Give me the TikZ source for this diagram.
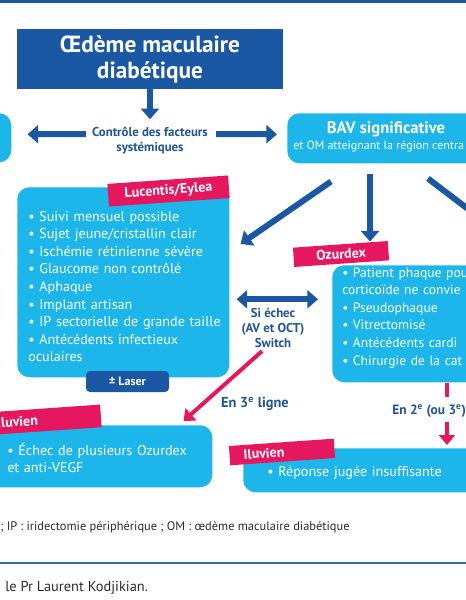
\documentclass[tikz,border=0pt]{standalone}
\usepackage{fontspec}
\setmainfont{PT Sans}
\usetikzlibrary{arrows.meta,positioning,calc}
\definecolor{deepblue}{HTML}{1B58A3}
\definecolor{skycyan}{HTML}{1DB6EB}
\definecolor{hotpink}{HTML}{E5175F}
\definecolor{labelblue}{HTML}{1F5596}
\definecolor{ruleblue}{HTML}{2E6DB4}
\definecolor{noteink}{HTML}{2B2B2B}
\tikzset{
  titlebox/.style={
    fill=deepblue,
    text=white,
    align=center,
    font=\bfseries\fontsize{17.5}{19.5}\selectfont,
    minimum width=199.5pt,
    minimum height=45pt,
    inner sep=0pt
  },
  cyanbox/.style={
    fill=skycyan,
    rounded corners=9pt,
    inner sep=0pt,
    anchor=north west
  },
  tabnode/.style={
    fill=hotpink,
    text=white,
    font=\bfseries\fontsize{10.5}{12}\selectfont,
    rotate=4,
    inner sep=0pt
  },
  laserbox/.style={
    fill=deepblue,
    text=white,
    rounded corners=3pt,
    font=\bfseries\fontsize{9}{10}\selectfont,
    minimum width=62.25pt,
    minimum height=15.75pt,
    inner sep=0pt
  },
  listtext/.style={
    text=white,
    align=left,
    text width=180pt,
    anchor=base west,
    inner sep=0pt,
    font=\fontsize{10.6}{13.2}\selectfont
  },
  steplabel/.style={
    text=labelblue,
    align=center,
    inner sep=0pt,
    font=\bfseries\fontsize{9.6}{11.4}\selectfont
  },
  notetext/.style={anchor=base west, inner sep=0pt, text=noteink},
  bluearrow/.style={draw=deepblue, line width=4.5pt, -{Triangle[length=8pt,width=13.5pt]}},
  bluedouble/.style={draw=deepblue, line width=4.5pt,
    {Triangle[length=8pt,width=13.5pt]}-{Triangle[length=8pt,width=13.5pt]}},
  pinkarrow/.style={draw=hotpink, line width=3pt, -{Triangle[length=7.5pt,width=12pt]}},
  pinkline/.style={draw=hotpink, line width=3pt}
}

\begin{document}
\begin{tikzpicture}[x=0.75pt,y=-0.75pt]
  \useasboundingbox (0,0) rectangle (466,600);
  \clip (0,0) rectangle (466,600);
  \fill[white] (0,0) rectangle (466,600);
  \draw[deepblue, line width=2pt] (0,1.5) -- (466,1.5);

  % title and systemic control
  \node[titlebox] (title) at (150,59) {Œdème maculaire\\diabétique};
  \node[steplabel] (ctrl) at (150,141) {Contrôle des facteurs\\systémiques};
  \node[cyanbox, minimum width=38.25pt, minimum height=36.75pt] (leftbox) at (-40,113) {};
  \node[cyanbox, minimum width=180pt, minimum height=37.5pt] (bav) at (287,113) {};
  \node[inner sep=0pt, text=white, font=\bfseries\fontsize{12.5}{14}\selectfont] (bavhead) at (386,129) {BAV significative};
  \node[notetext, text=white, font=\fontsize{9}{11}\selectfont] (bavsub) at (293,149) {et OM atteignant la région centra};
  \draw[bluearrow] (title.south) -- ($(title.south)+(0,30)$);
  \draw[bluearrow] ($(ctrl.west)+(-6,-7)$) -- ($(leftbox.east)+(16,-3.5)$);
  \draw[bluearrow] ($(ctrl.east)+(8,-7)$) -- ($(bav.west)+(-10,-4)$);

  % Lucentis / Eylea
  \node[cyanbox, minimum width=159pt, minimum height=142.5pt] (lucbox) at (17,187) {};
  \node[tabnode, minimum width=90.75pt, minimum height=17pt] (luctab) at (168.5,191) {Lucentis/Eylea};
  \node[listtext] (luclist) at (28,221) {• Suivi mensuel possible\\
    • Sujet jeune/cristallin clair\\
    • Ischémie rétinienne sévère\\
    • Glaucome non contrôlé\\
    • Aphaque\\
    • Implant artisan\\
    • IP sectorielle de grande taille\\
    • Antécédents infectieux\\
    oculaires};
  \node[laserbox] (laser) at (127.5,381.5) {± Laser};

  % Ozurdex
  \node[cyanbox, minimum width=150pt, minimum height=87.75pt] (ozbox) at (332,265) {};
  \node[tabnode, minimum width=71.25pt, minimum height=14.5pt] (oztab) at (341,254) {Ozurdex};
  \node[listtext, text width=96pt, font=\fontsize{10.2}{13.2}\selectfont] (ozlist) at (342,277) {• Patient phaque pou\\
    corticoïde ne convie\\
    • Pseudophaque\\
    • Vitrectomisé\\
    • Antécédents cardi\\
    • Chirurgie de la cat};

  % arrows out of BAV
  \draw[bluearrow] ($(bav.south west)+(44,18)$) -- ($(lucbox.north east)+(11,57)$);
  \draw[bluearrow] ($(bav.south west)+(83,10)$) -- ($(bav.south west)+(83,78)$);
  \draw[bluearrow] ($(bav.south west)+(141,15)$) -- ($(bav.south west)+(208,66)$);

  % switch between the two
  \node[steplabel] (switch) at (273,328) {Si échec\\(AV et OCT)\\Switch};
  \draw[bluedouble] ($(lucbox.east)+(7,17)$) -- ($(ozbox.west)+(-14,-24.5)$);

  % Iluvien
  \node[cyanbox, minimum width=174pt, minimum height=46.5pt] (lilubox) at (-20,425) {};
  \node[tabnode, text width=67.5pt, align=left, inner xsep=10.5pt, minimum height=17pt] (lilutab) at (42,420) {Iluvien};
  \node[listtext] (lilulist) at (7,455) {• Échec de plusieurs Ozurdex\\et anti-VEGF};
  \node[cyanbox, minimum width=180pt, minimum height=33pt] (rilubox) at (243,448) {};
  \node[tabnode, text width=57.75pt, align=left, inner xsep=10.5pt, minimum height=14.5pt] (rilutab) at (282,452) {Iluvien};
  \node[listtext, text width=140pt] (rilulist) at (267,476) {• Réponse jugée insuffisante};

  \node[steplabel, font=\bfseries\fontsize{10.8}{12}\selectfont] (en3) at (255,404) {En 3\textsuperscript{e} ligne};
  \draw[pinkarrow] ($(switch.south)+(-11,3)$) -- ($(lilubox.north east)+(-29,-4)$);
  \node[steplabel, anchor=base west, font=\bfseries\fontsize{10.1}{12}\selectfont] (en2) at (392,414) {En 2\textsuperscript{e} (ou 3\textsuperscript{e})};
  \draw[pinkline] ($(ozbox.south west)+(115,0)$) -- ($(ozbox.south west)+(115,14)$);
  \draw[pinkarrow] ($(rilubox.north west)+(204,-26)$) -- ($(rilubox.north west)+(204,-3)$);

  % notes
  \node[notetext, font=\fontsize{9.3}{11}\selectfont] (abbrev) at (0,530) {; IP : iridectomie périphérique ; OM : œdème maculaire diabétique};
  \draw[ruleblue, line width=2pt] (0,563) -- (466,563);
  \node[notetext, font=\fontsize{10.8}{12}\selectfont] (credit) at (5,591) {le Pr Laurent Kodjikian.};
\end{tikzpicture}
\end{document}
